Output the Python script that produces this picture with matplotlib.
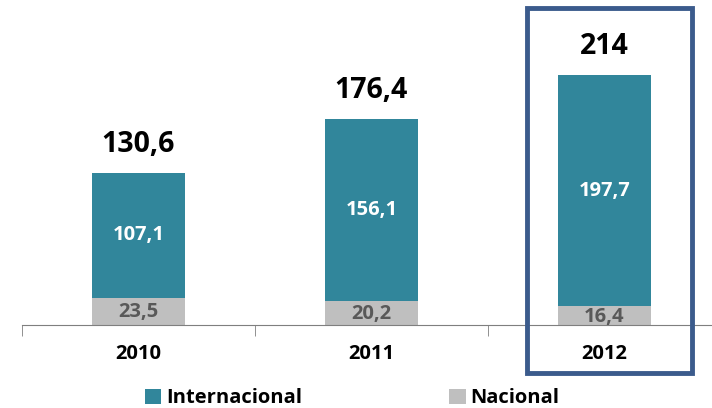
import matplotlib.pyplot as plt
from matplotlib.patches import Rectangle

plt.rcParams['font.family'] = ['Open Sans', 'DejaVu Sans']

years = ['2010', '2011', '2012']
internacional = [107.1, 156.1, 197.7]
nacional = [23.5, 20.2, 16.4]
totals = ['130,6', '176,4', '214']

teal = '#31869B'
grey = '#BFBFBF'

fig = plt.figure(figsize=(7.12, 4.08), dpi=100)
# axes placed in pixels: baseline at y=325, categories 233 px apart starting at x=22
ax = fig.add_axes([22 / 712, 83 / 408, 699 / 712, 325 / 408])
x = range(len(years))
ax.bar(x, nacional, width=0.4, color=grey, label='Nacional', zorder=2)
ax.bar(x, internacional, width=0.4, bottom=nacional, color=teal, label='Internacional', zorder=2)

for i in x:
    ax.text(i, nacional[i] / 2 - 1, f'{nacional[i]:.1f}'.replace('.', ','), ha='center', va='center',
            color='#595959', fontsize=14.5, fontweight='bold')
    ax.text(i, nacional[i] + internacional[i] / 2, f'{internacional[i]:.1f}'.replace('.', ','),
            ha='center', va='center', color='white', fontsize=14.5, fontweight='bold')
    ax.text(i, nacional[i] + internacional[i] + 12, totals[i], ha='center', va='bottom',
            color='black', fontsize=20.5, fontweight='bold')

ax.set_xlim(-0.5, 2.5)
ax.set_ylim(0, 278.7)
for s in ['top', 'right', 'left']:
    ax.spines[s].set_visible(False)
ax.spines['bottom'].set_color('#7F7F7F')
ax.set_yticks([])
ax.set_xticks(list(x))
ax.set_xticklabels(years, fontsize=14.5, fontweight='bold')
ax.tick_params(axis='x', which='major', length=0, pad=14)
ax.set_xticks([-0.5, 0.5, 1.5], minor=True)
ax.tick_params(axis='x', which='minor', length=8, color='#7F7F7F', direction='out')

# highlight frame around 2012
ax.add_patch(Rectangle((1.667, -41), 0.708, 313, fill=False, edgecolor='#3B5B8C',
                       linewidth=3.5, clip_on=False, zorder=5))

h, l = ax.get_legend_handles_labels()
fig.legend(h[::-1], l[::-1], loc='lower center', bbox_to_anchor=(0.495, -0.045), ncol=2,
           frameon=False, prop={'size': 14.5, 'weight': 'bold'}, handlelength=0.8,
           handleheight=0.8, handletextpad=0.25, columnspacing=7.3)

fig.savefig('out.png', dpi=100)
